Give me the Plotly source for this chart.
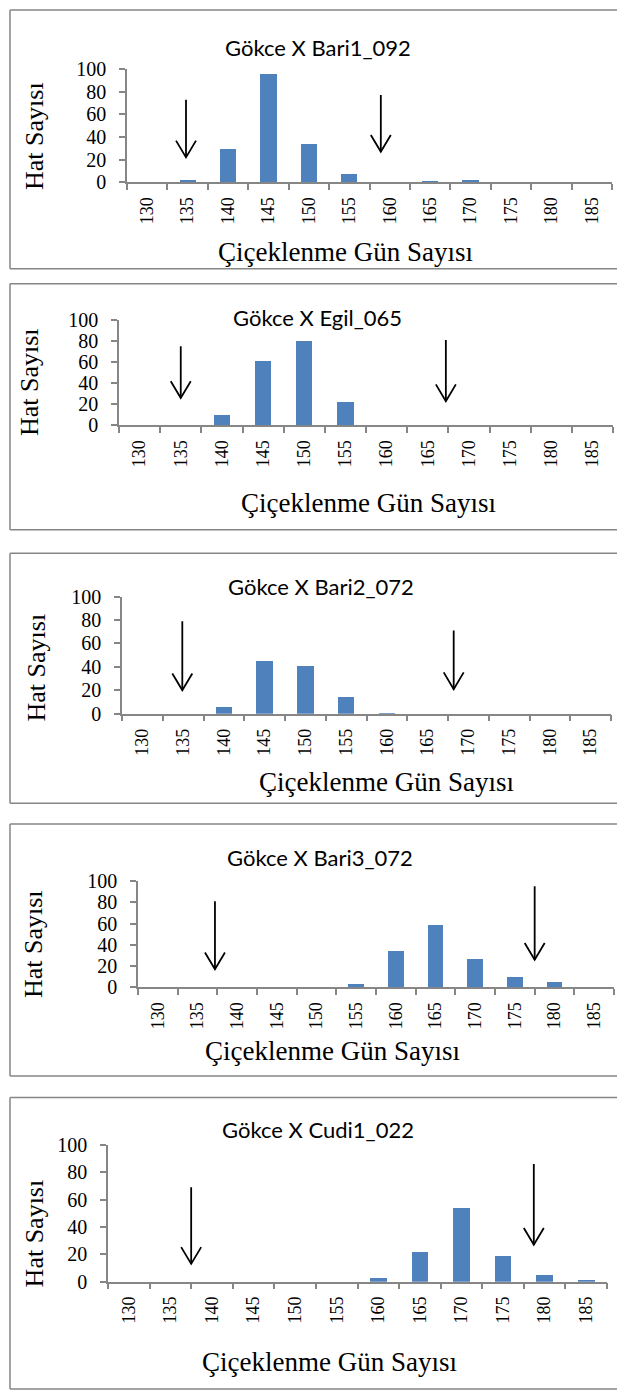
import plotly.graph_objects as go

W, H = 617, 1394

# ---------------- data ----------------
days = [130, 135, 140, 145, 150, 155, 160, 165, 170, 175, 180, 185]
tick_labels = [str(d) for d in days]

titles = ["Gökce X Bari1_092", "Gökce X Egil_065", "Gökce X Bari2_072",
          "Gökce X Bari3_072", "Gökce X Cudi1_022"]

bari1_092 = [0, 2, 29, 96, 34, 7, 0, 1, 2, 0, 0, 0]
egil_065 = [0, 0, 10, 61, 80, 22, 0, 0, 0, 0, 0, 0]
bari2_072 = [0, 0, 6, 45, 41, 15, 1, 0, 0, 0, 0, 0]
bari3_072 = [0, 0, 0, 0, 0, 3, 34, 59, 27, 10, 5, 0]
cudi1_022 = [0, 0, 0, 0, 0, 0, 3, 22, 54, 19, 5, 1]
series = [bari1_092, egil_065, bari2_072, bari3_072, cudi1_022]

# arrows: x position (days), top value, tip value  (left, right)
arrow_x = [[134.8, 158.9], [135.0, 167.2], [134.9, 168.2], [137.2, 177.5], [137.5, 178.7]]
arrow_top = [[73, 77], [75, 81], [79, 71], [81, 95], [69, 86]]
arrow_tip = [[22, 27], [26, 23], [20, 21], [17, 26], [13, 27]]

y_ticks = [0, 20, 40, 60, 80, 100]

# ---------------- layout geometry (pixels) ----------------
plot_boxes = [  # x0, x1, y_top(100), y_bottom(0)
    (127, 612, 59, 174),
    (119, 613, 314, 421),
    (122, 611, 595, 714),
    (138, 614, 884, 992),
    (108, 607, 1152, 1291),
]
title_pos = [(318, 37), (318, 311), (321, 585), (320, 860), (318, 1136)]
xtitle_pos = [(345, 245), (368, 500), (386, 783), (332, 1057), (329, 1373)]
ytitle_pos = [(35, 127), (29, 377), (36, 667), (33, 948), (34, 1242)]
frames = [(10, -1, 262), (10, 277, 527), (10, 551, 805), (10, 826, 1082), (10, 1104, 1400)]

BAR = "#4F81BD"
AXC = "#868686"
SERIF = "Liberation Serif"
HEAD_DX_PX = 10   # arrow head half width in px
HEAD_DY_PX = 17   # arrow head length in px


def px(x):
    return x / W


def py(y):
    return 1 - y / H


fig = go.Figure()
annotations = []
shapes = []

for i, vals in enumerate(series):
    n = i + 1
    xa = "x" if n == 1 else f"x{n}"
    ya = "y" if n == 1 else f"y{n}"
    fig.add_trace(go.Bar(
        x=days, y=vals, width=2.0, marker=dict(color=BAR, line=dict(width=0)),
        xaxis=xa, yaxis=ya, showlegend=False, hoverinfo="x+y"))
    x0, x1, yt, yb = plot_boxes[i]
    xkey = "xaxis" if n == 1 else f"xaxis{n}"
    ykey = "yaxis" if n == 1 else f"yaxis{n}"
    fig.update_layout({
        xkey: dict(
            domain=[px(x0), px(x1)], anchor=ya, range=[127.5, 187.5],
            tickmode="array", tickvals=days, ticktext=tick_labels, ticks="",
            tickangle=-90, tickfont=dict(family=SERIF, size=18, color="black"),
            showline=True, linecolor=AXC, linewidth=1.5, showgrid=False, zeroline=False,
            ticklabelstandoff=6,
            minor=dict(tick0=127.5, dtick=5, ticks="outside", ticklen=6,
                       tickcolor=AXC, tickwidth=1.5, showgrid=False),
            fixedrange=True,
        ),
        ykey: dict(
            domain=[py(yb), py(yt)], anchor=xa, range=[0, 100],
            tickmode="array", tickvals=y_ticks, ticks="outside", ticklen=6,
            tickcolor=AXC, tickwidth=1.5,
            tickfont=dict(family=SERIF, size=20, color="black"),
            showline=True, linecolor=AXC, linewidth=1.5, showgrid=False, zeroline=False,
            ticklabelstandoff=9, fixedrange=True,
        ),
    })
    # arrows drawn as open V shapes in data coordinates
    ux = 60.0 / (x1 - x0)      # days per pixel
    uy = 100.0 / (yb - yt)     # counts per pixel
    for k in range(2):
        ax_, top, tip = arrow_x[i][k], arrow_top[i][k], arrow_tip[i][k]
        shapes.append(dict(type="line", xref=xa, yref=ya, x0=ax_, y0=top, x1=ax_, y1=tip,
                           line=dict(color="black", width=1.8)))
        dx, dy = HEAD_DX_PX * ux, HEAD_DY_PX * uy
        shapes.append(dict(type="path", xref=xa, yref=ya,
                           path=f"M{ax_ - dx},{tip + dy} L{ax_},{tip} L{ax_ + dx},{tip + dy}",
                           line=dict(color="black", width=1.8)))
    # titles
    tx, ty = title_pos[i]
    annotations.append(dict(xref="paper", yref="paper", x=px(tx), y=py(ty),
                            text=titles[i], showarrow=False, xanchor="center", yanchor="middle",
                            font=dict(family="Lato", size=22, color="black")))
    tx, ty = xtitle_pos[i]
    annotations.append(dict(xref="paper", yref="paper", x=px(tx), y=py(ty),
                            text="Çiçeklenme Gün Sayısı", showarrow=False,
                            xanchor="center", yanchor="middle",
                            font=dict(family=SERIF, size=27, color="black")))
    tx, ty = ytitle_pos[i]
    annotations.append(dict(xref="paper", yref="paper", x=px(tx), y=py(ty),
                            text="Hat Sayısı", showarrow=False, textangle=-90,
                            xanchor="center", yanchor="middle",
                            font=dict(family=SERIF, size=26, color="black")))
    # frame (left, top, bottom edges; right edge runs off the page)
    fx, ftop, fbot = frames[i]
    for (a, b, c, d) in [(fx, ftop, fx, fbot), (fx, ftop, W + 5, ftop), (fx, fbot, W + 5, fbot)]:
        shapes.append(dict(type="line", xref="paper", yref="paper",
                           x0=px(a), y0=py(b), x1=px(c), y1=py(d),
                           line=dict(color=AXC, width=1.5)))

fig.update_layout(
    width=W, height=H, margin=dict(l=0, r=0, t=0, b=0),
    paper_bgcolor="white", plot_bgcolor="white",
    annotations=annotations, shapes=shapes, bargap=0, showlegend=False,
)

fig.write_html("out.html", post_script="document.body.style.margin='0';",
               config={"displayModeBar": False})
